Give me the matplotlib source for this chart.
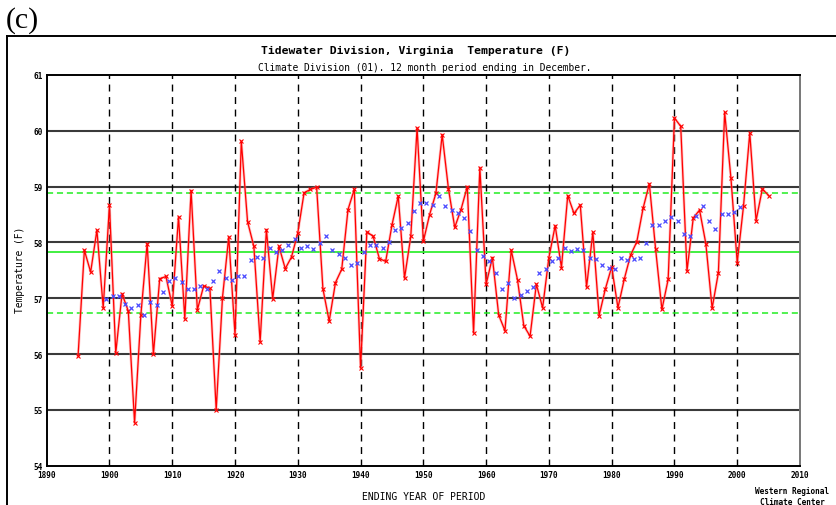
import matplotlib
matplotlib.use("Agg")
import matplotlib.pyplot as plt
from matplotlib.lines import Line2D

# ---- data ----
years = list(range(1895, 2006))
temps = [55.97, 57.86, 57.47, 58.22, 56.83, 58.67, 56.02, 57.08, 56.77, 54.77,
         56.70, 57.98, 56.00, 57.35, 57.39, 56.86, 58.46, 56.63, 58.93, 56.79,
         57.22, 57.18, 55.00, 57.01, 58.10, 56.34, 59.81, 58.37, 57.93, 56.22,
         58.23, 56.99, 57.93, 57.53, 57.74, 58.17, 58.89, 58.95, 58.99, 57.17,
         56.59, 57.28, 57.52, 58.59, 58.95, 55.75, 58.19, 58.11, 57.71, 57.66,
         58.31, 58.83, 57.36, 58.11, 60.05, 58.02, 58.50, 58.88, 59.93, 58.96,
         58.27, 58.59, 59.00, 56.38, 59.34, 57.25, 57.73, 56.70, 56.42, 57.86,
         57.33, 56.51, 56.32, 57.25, 56.83, 57.73, 58.30, 57.55, 58.84, 58.52,
         58.67, 57.20, 58.18, 56.69, 57.17, 57.56, 56.83, 57.34, 57.77, 58.01,
         58.61, 59.05, 57.88, 56.80, 57.34, 60.23, 60.08, 57.49, 58.44, 58.58,
         57.98, 56.82, 57.46, 60.33, 59.15, 57.64, 58.65, 59.96, 58.39, 58.96,
         58.84]

ma_years = [y + 0.5 for y in range(1899, 2001)]
ma_vals = [56.98, 57.04, 57.04, 56.90, 56.82, 56.88, 56.70, 56.93, 56.88, 57.11,
           57.31, 57.37, 57.29, 57.17, 57.16, 57.22, 57.16, 57.31, 57.48, 57.37,
           57.33, 57.40, 57.39, 57.69, 57.74, 57.72, 57.90, 57.82, 57.86, 57.96,
           58.07, 57.90, 57.93, 57.88, 57.99, 58.11, 57.86, 57.80, 57.72, 57.59,
           57.64, 57.82, 57.96, 57.95, 57.90, 58.01, 58.22, 58.26, 58.35, 58.57,
           58.70, 58.70, 58.67, 58.84, 58.65, 58.59, 58.52, 58.44, 58.21, 57.86,
           57.76, 57.66, 57.45, 57.17, 57.27, 57.01, 57.06, 57.13, 57.20, 57.45,
           57.52, 57.66, 57.72, 57.90, 57.84, 57.88, 57.86, 57.73, 57.71, 57.60,
           57.55, 57.53, 57.72, 57.68, 57.71, 57.72, 57.99, 58.32, 58.32, 58.39,
           58.46, 58.39, 58.16, 58.11, 58.48, 58.65, 58.39, 58.24, 58.51, 58.51,
           58.55, 58.64]

mean_val = 57.82
upper_sd = 58.89
lower_sd = 56.73

x_ticks = list(range(1890, 2011, 10))
y_ticks = list(range(54, 62))

W, H = 836, 506
fig = plt.figure(figsize=(W / 100, H / 100), dpi=100)
fig.patch.set_facecolor("white")

ax_l, ax_r, ax_t, ax_b = 46.7, 800, 76, 466.7
ax = fig.add_axes([ax_l / W, 1 - ax_b / H, (ax_r - ax_l) / W, (ax_b - ax_t) / H])
ax.set_xlim(1890, 2010)
ax.set_ylim(54, 61)

# grid
for yv in range(55, 61):
    ax.axhline(yv, color="#3a3a3a", lw=1.5, zorder=1)
for xv in range(1900, 2001, 10):
    ax.axvline(xv, color="black", lw=1.0, ls=(0, (5, 4)), zorder=1)

# mean / sd lines
ax.axhline(mean_val, color="#33ee33", lw=1.3, zorder=2)
ax.axhline(upper_sd, color="#22ee22", lw=1.1, ls=(0, (4, 2.5)), zorder=2)
ax.axhline(lower_sd, color="#22ee22", lw=1.1, ls=(0, (4, 2.5)), zorder=2)

# annual series
ax.plot(years, temps, color="#ff8a8a", lw=2.0, alpha=0.5, zorder=3)
ax.plot(years, temps, color="red", lw=0.9, marker="x", ms=3.0, mew=0.8, zorder=4)

# moving average
ax.plot(ma_years, ma_vals, ls="none", marker="x", color="#4a4aff", ms=3.0, mew=0.9,
        zorder=5)

ax.set_xticks(x_ticks)
ax.set_yticks(y_ticks)
ax.tick_params(length=0, labelsize=5.6, pad=3)
for lab in ax.get_xticklabels() + ax.get_yticklabels():
    lab.set_family("DejaVu Sans Mono")
    lab.set_fontweight("bold")
for s in ax.spines.values():
    s.set_linewidth(1.4)
    s.set_color("black")
ax.spines["right"].set_color("#777777")

# texts
fig.text(416 / W, 1 - 51 / H, "Tidewater Division, Virginia  Temperature (F)",
         ha="center", va="center", family="DejaVu Sans Mono", fontweight="bold",
         fontsize=8.2)
fig.text(425 / W, 1 - 68 / H,
         "Climate Division (01). 12 month period ending in December.",
         ha="center", va="center", family="DejaVu Sans Mono", fontsize=6.9)
fig.text(20 / W, 1 - 270 / H, "Temperature (F)", rotation=90, ha="center",
         va="center", family="DejaVu Sans Mono", fontsize=6.9)
fig.text(424 / W, 1 - 497 / H, "ENDING YEAR OF PERIOD", ha="center", va="center",
         family="DejaVu Sans Mono", fontsize=7)
fig.text(792 / W, 1 - 497 / H, "Western Regional\nClimate Center", ha="center",
         va="center", family="DejaVu Sans Mono", fontweight="bold", fontsize=5.6,
         linespacing=1.3)
fig.text(6 / W, 1 - 21 / H, "(c)", ha="left", va="center",
         family="Liberation Serif", fontsize=21.5)

# outer frame
fig.add_artist(Line2D([7.3 / W, 7.3 / W], [0, 1 - 36.7 / H], color="black", lw=1.4,
                      transform=fig.transFigure))
fig.add_artist(Line2D([7.3 / W, 1], [1 - 36.7 / H, 1 - 36.7 / H], color="black",
                      lw=1.4, transform=fig.transFigure))

fig.savefig("out.png", dpi=100)
